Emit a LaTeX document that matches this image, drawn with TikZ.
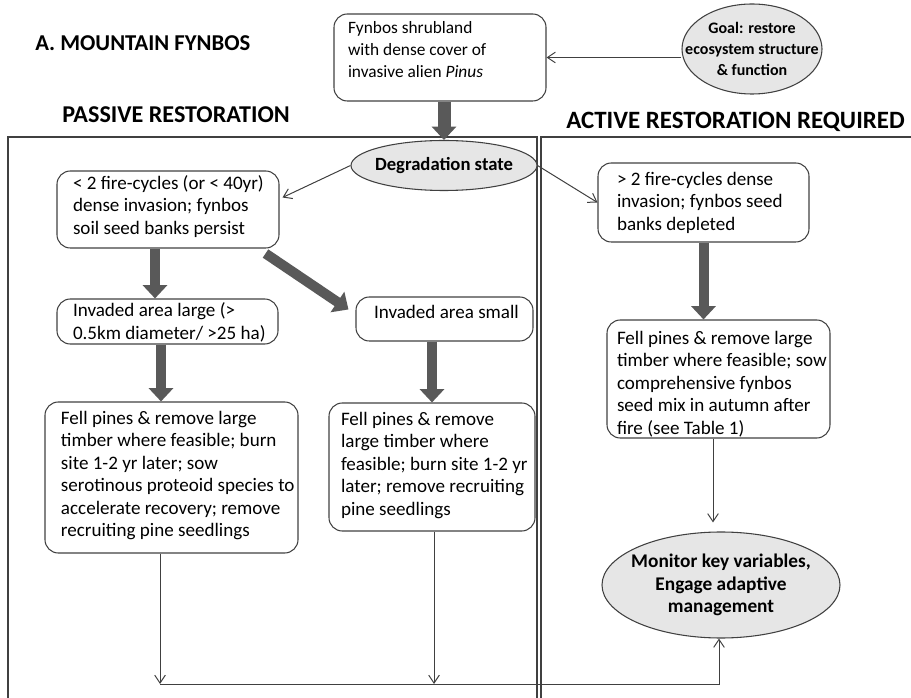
\documentclass[tikz,border=0pt]{standalone}
\usepackage{fontspec}
\setmainfont{Carlito}
\usetikzlibrary{calc,shapes.geometric,arrows.meta}

\definecolor{linegray}{HTML}{404040}
\definecolor{ovalgray}{HTML}{E6E6E6}
\definecolor{arrowgray}{HTML}{595959}

\newdimen\px \px=0.75pt
% box text: width, height, top gap, left gap (all px), text
\newcommand{\fbtext}[5]{\begin{minipage}[c][#2\px][t]{#1\px}\vspace*{#3\px}\leftskip=#4\px\relax\strut #5\end{minipage}}

\begin{document}
\begin{tikzpicture}[x=0.75pt,y=-0.75pt,
  box/.style={draw=linegray, line width=0.8pt, rounded corners=10pt, inner sep=0pt,
    font=\fontsize{14.3}{16.9}\selectfont},
  oval/.style={ellipse, draw=linegray, line width=0.8pt, fill=ovalgray, inner sep=-15pt,
    align=center, font=\bfseries\fontsize{14}{16.9}\selectfont},
  heading/.style={anchor=west, inner sep=0pt, font=\bfseries\fontsize{#1}{21}\selectfont},
  thinarr/.style={draw=linegray, line width=0.75pt, -{Straight Barb[length=6pt,width=8pt]}},
  fatarr/.style={draw=arrowgray, line width=7.5pt, -{Triangle[width=18pt,length=10pt]}},
  panel/.style={draw=linegray, line width=0.8pt}]
\useasboundingbox (0,0) rectangle (911,698);
\clip (0,0) rectangle (911,698);

% panels
\draw[panel] (8,720) -- (8,137) -- (537,137) -- (537,720);
\draw[panel] (541,720) -- (541,137) -- (930,137);

% headings
\node[heading=17] (title) at (35,43) {A. MOUNTAIN FYNBOS};
\node[heading=18.1] (passive) at (62,115) {PASSIVE RESTORATION};
\node[heading=18.7] (active) at (566,122) {ACTIVE RESTORATION REQUIRED};

% nodes
\node[box, font=\fontsize{13}{16.5}\selectfont] (fyn) at (440,57.5)
  {\fbtext{212}{87}{4.5}{14}{Fynbos shrubland\\with dense cover of\\invasive alien \textit{Pinus}}};
\node[oval, minimum width=105pt, minimum height=67.5pt, font=\bfseries\fontsize{12}{15.75}\selectfont] (goal) at (752,49)
  {Goal: restore\\ecosystem structure\\\& function};
\node[oval, minimum width=139.5pt, minimum height=37.5pt] (degr) at (444,165.5) {Degradation state};

\node[box] (L1) at (168,209.5)
  {\fbtext{222}{77}{2.5}{16}{< 2 fire-cycles (or < 40yr)\\dense invasion; fynbos\\soil seed banks persist}};
\node[box] (R1) at (703.5,202.5)
  {\fbtext{211}{79}{6.5}{19}{> 2 fire-cycles dense\\invasion; fynbos seed\\banks depleted}};
\node[box] (L2) at (167.5,321.5)
  {\fbtext{221}{45}{2}{16}{Invaded area large (>\\0.5km diameter/ >25 ha)}};
\node[box] (R2) at (444.5,319)
  {\fbtext{177}{44}{5.5}{18}{Invaded area small}};
\node[box] (L3) at (171.5,477.5)
  {\fbtext{253}{151}{6.5}{16}{Fell pines \& remove large\\timber where feasible; burn\\site 1-2 yr later; sow\\serotinous proteoid species to\\accelerate recovery; remove\\recruiting pine seedlings}};
\node[box] (R3) at (432,467)
  {\fbtext{206}{128}{6.5}{12}{Fell pines \& remove\\large timber where\\feasible; burn site 1-2 yr\\later; remove recruiting\\pine seedlings}};
\node[box] (R4) at (718.5,379)
  {\fbtext{223}{118}{8.5}{10}{Fell pines \& remove large\\timber where feasible; sow\\comprehensive fynbos\\seed mix in autumn after\\fire (see Table 1)}};
\node[oval, minimum width=178.5pt, minimum height=79.5pt, font=\bfseries\fontsize{14.5}{16.9}\selectfont] (mon) at (721,585)
  {Monitor key variables,\\Engage adaptive\\management};

% top of the flow
\draw[thinarr] (goal.west |- fyn.east) -- (fyn.east);
\draw[fatarr, line width=9.75pt] (degr.north |- fyn.south) -- (degr.north);

% degradation state
\draw[thinarr] (degr.west) -- ($(L1.east)+(3,-12)$);
\draw[thinarr] (degr.east) -- (R1.west);

% passive branch
\coordinate (a1) at ($(L1.south)+(-13,0)$);
\draw[fatarr] (a1) -- (a1 |- L2.north);
\draw[fatarr] ($(L1.south east)+(-14,5)$) -- ($(R2.north west)+(-7,13)$);
\coordinate (a2) at ($(L2.south)+(-6.5,0)$);
\draw[fatarr] (a2) -- (a2 |- L3.north);
\draw[fatarr] (R3.north |- R2.south) -- (R3.north);

% active branch
\draw[fatarr] (R1.south) -- (R1.south |- R4.north);
\coordinate (a3) at ($(R4.south)+(-5.5,0)$);
\draw[thinarr] (a3) -- ($(a3 |- mon.north)+(0,-9)$);

% towards monitoring
\coordinate (bus) at (0,684);
\coordinate (a4) at ($(L3.south)+(-11.5,0)$);
\coordinate (a5) at ($(R3.south)+(2,0)$);
\coordinate (a6) at ($(mon.south)+(-2,0)$);
\draw[thinarr] (a4) -- (a4 |- bus);
\draw[thinarr] (a5) -- (a5 |- bus);
\draw[thinarr] (a4 |- bus) -- (a6 |- bus) -- (a6);
\end{tikzpicture}
\end{document}
